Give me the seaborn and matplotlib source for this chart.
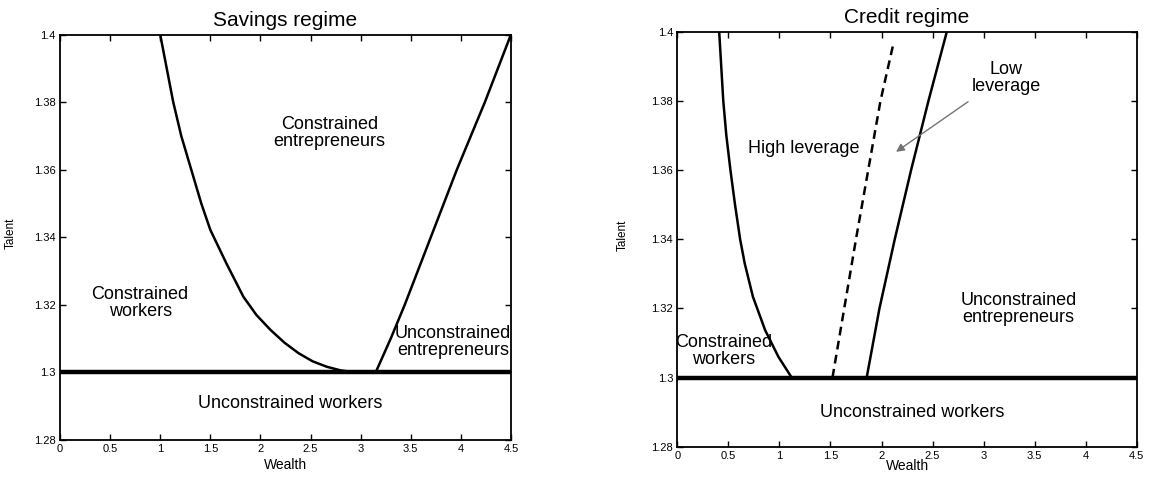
import numpy as np
import pandas as pd
import seaborn as sns
from matplotlib import pyplot as plt
from matplotlib.ticker import FixedLocator, FixedFormatter

# ---- data ----
talent_cutoff = 1.30

# savings regime
sav_left_wealth = [1.00, 1.065, 1.13, 1.21, 1.31, 1.41, 1.50, 1.66, 1.83, 1.96, 2.10, 2.24, 2.38, 2.52, 2.66, 2.80, 2.95]
sav_left_talent = [1.400, 1.390, 1.380, 1.370, 1.360, 1.350, 1.3422, 1.3323, 1.3224, 1.3170, 1.3126, 1.3088, 1.3057, 1.3033, 1.3017, 1.3006, 1.300]
sav_right_wealth = [3.15, 3.30, 3.44, 3.57, 3.70, 3.83, 3.96, 4.10, 4.24, 4.37, 4.50]
sav_right_talent = [1.30, 1.31, 1.32, 1.33, 1.34, 1.35, 1.36, 1.37, 1.38, 1.39, 1.40]

# credit regime
cred_left_wealth = [0.41, 0.43, 0.45, 0.48, 0.52, 0.565, 0.615, 0.66, 0.74, 0.86, 0.99, 1.12]
cred_left_talent = [1.40, 1.39, 1.38, 1.37, 1.36, 1.35, 1.34, 1.333, 1.3234, 1.3137, 1.306, 1.300]
cred_dash_wealth = [1.52, 1.635, 1.75, 1.87, 1.99, 2.12]
cred_dash_talent = [1.30, 1.32, 1.34, 1.36, 1.38, 1.397]
cred_right_wealth = [1.855, 1.98, 2.13, 2.29, 2.46, 2.64]
cred_right_talent = [1.30, 1.32, 1.34, 1.36, 1.38, 1.40]

x_ticks = [0, 0.5, 1, 1.5, 2, 2.5, 3, 3.5, 4, 4.5]
x_labels = ["0", "0.5", "1", "1.5", "2", "2.5", "3", "3.5", "4", "4.5"]
y_ticks = [1.28, 1.30, 1.32, 1.34, 1.36, 1.38, 1.40]
y_labels = ["1.28", "1.3", "1.32", "1.34", "1.36", "1.38", "1.4"]

sns.set_theme(style="white")
plt.rcParams['font.family'] = ['Liberation Sans', 'DejaVu Sans']
plt.rcParams['text.color'] = 'black'
plt.rcParams['axes.labelcolor'] = 'black'

fig = plt.figure(figsize=(11.49, 4.78), dpi=100)
ax1 = fig.add_axes([0.0522, 0.0795, 0.3925, 0.8483])
ax2 = fig.add_axes([0.5895, 0.0655, 0.3998, 0.8682])


def curve(ax, w, t, **kw):
    df = pd.DataFrame({"Wealth": w, "Talent": t})
    sns.lineplot(data=df, x="Wealth", y="Talent", sort=False, estimator=None,
                 ax=ax, color="black", **kw)


def style_axes(ax, title, xl_y, yl_x):
    ax.set_xlim(0, 4.5)
    ax.set_ylim(1.28, 1.40)
    ax.xaxis.set_major_locator(FixedLocator(x_ticks))
    ax.xaxis.set_major_formatter(FixedFormatter(x_labels))
    ax.yaxis.set_major_locator(FixedLocator(y_ticks))
    ax.yaxis.set_major_formatter(FixedFormatter(y_labels))
    ax.tick_params(direction="in", length=4, width=1, top=True, right=True,
                   bottom=True, left=True, labelsize=8, pad=3, colors="black")
    for s in ax.spines.values():
        s.set_visible(True)
        s.set_color("black")
        s.set_linewidth(1.3)
    ax.set_title(title, fontsize=15, pad=6, color="black")
    ax.set_xlabel("Wealth", fontsize=10)
    ax.set_ylabel("Talent", fontsize=8.5)
    ax.xaxis.set_label_coords(0.5, xl_y)
    ax.yaxis.set_label_coords(yl_x, 0.51)
    if ax.get_legend():
        ax.get_legend().remove()


# savings regime
curve(ax1, sav_left_wealth, sav_left_talent, linewidth=1.8)
curve(ax1, sav_right_wealth, sav_right_talent, linewidth=1.8)
ax1.axhline(talent_cutoff, color="black", linewidth=3.2)
style_axes(ax1, "Savings regime", -0.045, -0.095)

fs = 13
ax1.text(2.69, 1.371, "Constrained\nentrepreneurs", ha="center", va="center", fontsize=fs, linespacing=1.0)
ax1.text(0.80, 1.3205, "Constrained\nworkers", ha="center", va="center", fontsize=fs, linespacing=1.0)
ax1.text(3.92, 1.309, "Unconstrained\nentrepreneurs", ha="center", va="center", fontsize=fs, linespacing=1.0, clip_on=False)
ax1.text(2.30, 1.2909, "Unconstrained workers", ha="center", va="center", fontsize=fs)

# credit regime
curve(ax2, cred_left_wealth, cred_left_talent, linewidth=1.8)
curve(ax2, cred_dash_wealth, cred_dash_talent, linewidth=1.8, linestyle=(0, (3.5, 2.2)))
curve(ax2, cred_right_wealth, cred_right_talent, linewidth=1.8)
ax2.axhline(talent_cutoff, color="black", linewidth=3.2)
style_axes(ax2, "Credit regime", -0.03, -0.105)

ax2.text(1.24, 1.3663, "High leverage", ha="center", va="center", fontsize=fs)
ax2.text(3.22, 1.3866, "Low\nleverage", ha="center", va="center", fontsize=fs, linespacing=1.0)
ax2.annotate("", xy=(2.12, 1.3648), xytext=(2.87, 1.3802),
             arrowprops=dict(arrowstyle="-|>", color="0.45", lw=1.0, mutation_scale=12))
ax2.text(0.45, 1.3077, "Constrained\nworkers", ha="center", va="center", fontsize=fs, linespacing=1.0, clip_on=False)
ax2.text(3.34, 1.3197, "Unconstrained\nentrepreneurs", ha="center", va="center", fontsize=fs, linespacing=1.0)
ax2.text(2.30, 1.290, "Unconstrained workers", ha="center", va="center", fontsize=fs)

fig.savefig("out.png", dpi=100)
